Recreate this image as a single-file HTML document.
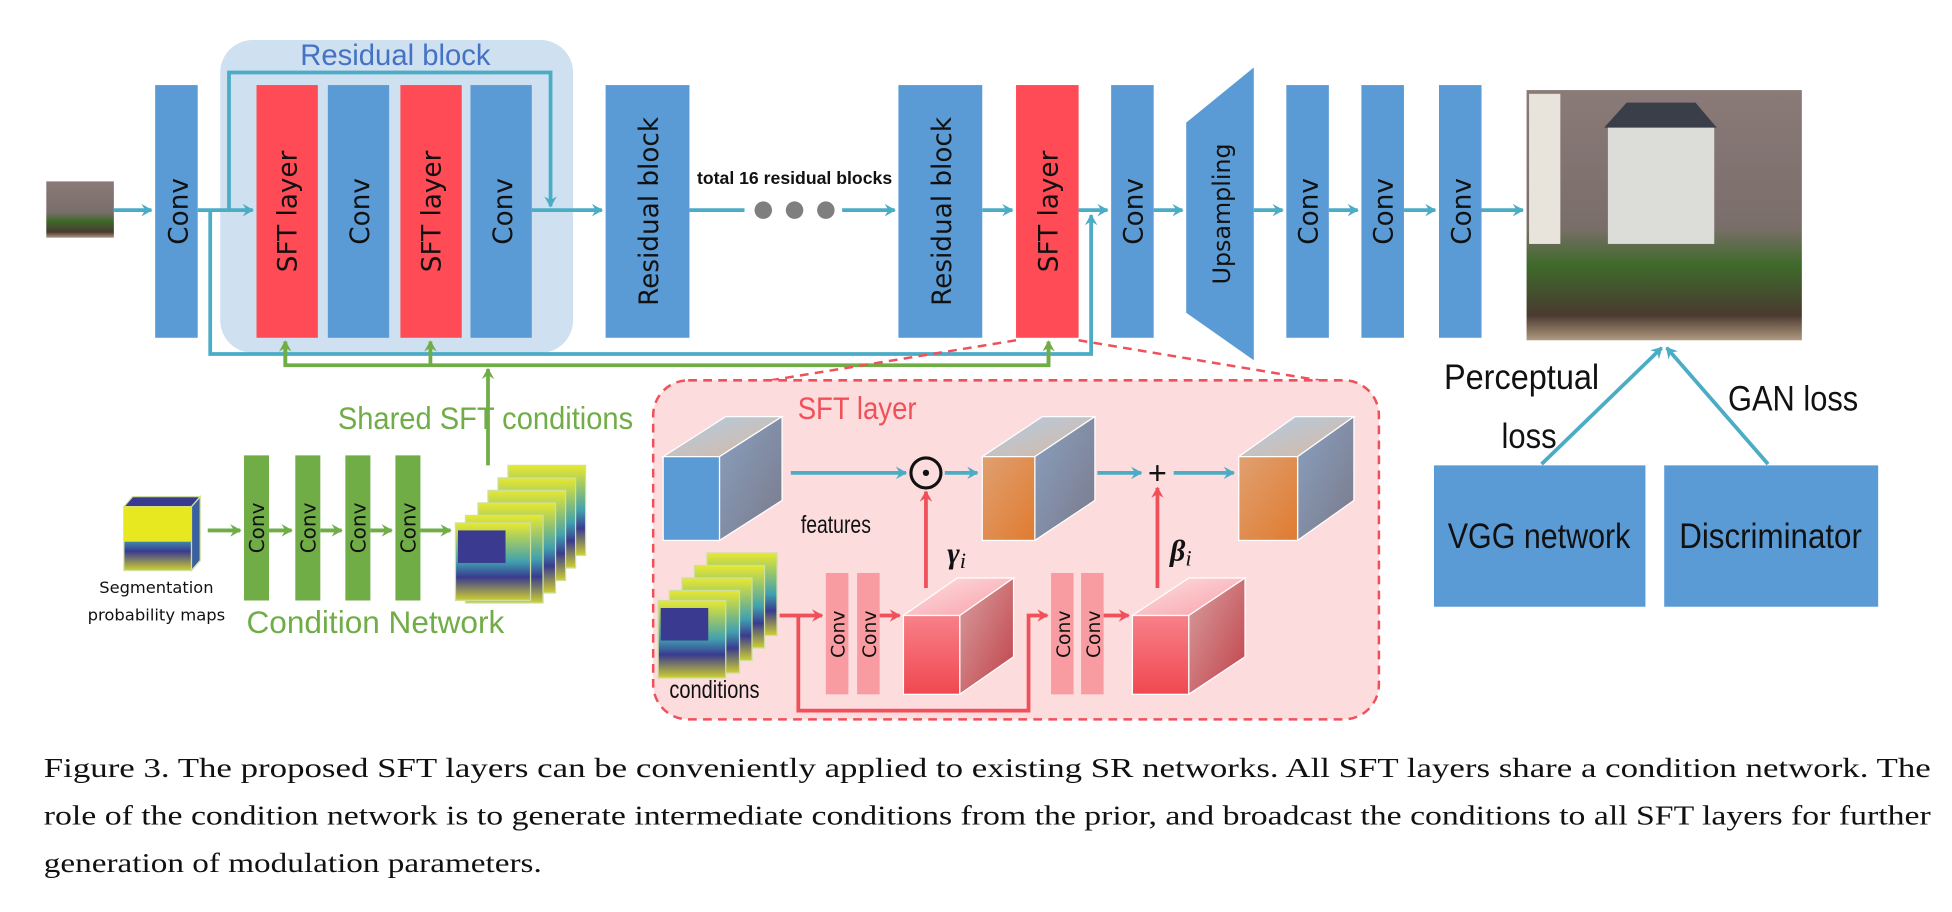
<!DOCTYPE html>
<html><head><meta charset="utf-8"><style>
html,body{margin:0;padding:0;background:#fff;width:1952px;height:912px;overflow:hidden}
svg{display:block}
.lb{font-family:"DejaVu Sans","Liberation Sans",sans-serif;font-size:21px;fill:#111}
.sm{font-family:"DejaVu Sans","Liberation Sans",sans-serif;fill:#111}
.cap{font-family:"Liberation Serif",serif;font-size:22px;fill:#111}
</style></head><body>
<svg width="1952" height="912" viewBox="0 0 1560 729" preserveAspectRatio="none" xmlns="http://www.w3.org/2000/svg">
<defs>
<marker id="at" markerWidth="10" markerHeight="10" refX="8" refY="5" orient="auto" markerUnits="userSpaceOnUse"><path d="M0,0 L9,5 L0,10 L3,5z" fill="#4bacc6"/></marker>
<marker id="ag" markerWidth="10" markerHeight="10" refX="8" refY="5" orient="auto" markerUnits="userSpaceOnUse"><path d="M0,0 L9,5 L0,10 L3,5z" fill="#70ad47"/></marker>
<marker id="ar" markerWidth="10" markerHeight="10" refX="8" refY="5" orient="auto" markerUnits="userSpaceOnUse"><path d="M0,0 L9,5 L0,10 L3,5z" fill="#f0505a"/></marker>
<linearGradient id="gt" x1="0" y1="0" x2="1" y2="1"><stop offset="0" stop-color="#b0cce6"/><stop offset="1" stop-color="#d8b8a0"/></linearGradient>
<linearGradient id="gs" x1="0" y1="0" x2="1" y2="1"><stop offset="0" stop-color="#8aa0c0"/><stop offset="1" stop-color="#7a7a8a"/></linearGradient>
<linearGradient id="go" x1="0" y1="0" x2="1" y2="1"><stop offset="0" stop-color="#e0a070"/><stop offset="1" stop-color="#e07b30"/></linearGradient>
<linearGradient id="gp" x1="0" y1="0" x2="0" y2="1"><stop offset="0" stop-color="#f88088"/><stop offset="1" stop-color="#f04850"/></linearGradient>
<linearGradient id="gpt" x1="0" y1="0" x2="1" y2="1"><stop offset="0" stop-color="#fde0e2"/><stop offset="1" stop-color="#f8a0a8"/></linearGradient>
<linearGradient id="gps" x1="0" y1="0" x2="1" y2="1"><stop offset="0" stop-color="#d8a0a0"/><stop offset="1" stop-color="#c04048"/></linearGradient>
<linearGradient id="gm" x1="0" y1="0" x2="0" y2="1"><stop offset="0" stop-color="#e8e830"/><stop offset="0.5" stop-color="#40a0b0"/><stop offset="0.7" stop-color="#3a3a90"/><stop offset="1" stop-color="#d0d030"/></linearGradient>
<linearGradient id="ph" x1="0" y1="0" x2="0" y2="1"><stop offset="0" stop-color="#8a7a78"/><stop offset="0.55" stop-color="#7a6e6a"/><stop offset="0.7" stop-color="#3e6a2a"/><stop offset="0.9" stop-color="#4a3a30"/><stop offset="1" stop-color="#b09a80"/></linearGradient>
</defs>

<rect x="176" y="32" width="282" height="250" rx="26" fill="#cfe0f0"/>
<text x="316" y="52" text-anchor="middle" font-family="Liberation Sans Narrow,Liberation Sans,sans-serif" font-size="24" fill="#4472c4" textLength="152" lengthAdjust="spacingAndGlyphs">Residual block</text>

<g fill="#5b9bd5">
<rect x="124" y="68" width="34" height="202"/>
<rect x="262" y="68" width="49" height="202"/>
<rect x="376" y="68" width="49" height="202"/>
<rect x="484" y="68" width="67" height="202"/>
<rect x="718" y="68" width="67" height="202"/>
<rect x="888" y="68" width="34" height="202"/>
<polygon points="948,98 1002,54 1002,288 948,250"/>
<rect x="1028" y="68" width="34" height="202"/>
<rect x="1088" y="68" width="34" height="202"/>
<rect x="1150" y="68" width="34" height="202"/>
</g>
<g fill="#ff4b55">
<rect x="205" y="68" width="49" height="202"/>
<rect x="320" y="68" width="49" height="202"/>
<rect x="812" y="68" width="50" height="202"/>
</g>
<g class="lb">
<text transform="translate(150,169) rotate(-90)" text-anchor="middle">Conv</text>
<text transform="translate(237,169) rotate(-90)" text-anchor="middle">SFT layer</text>
<text transform="translate(295,169) rotate(-90)" text-anchor="middle">Conv</text>
<text transform="translate(352,169) rotate(-90)" text-anchor="middle">SFT layer</text>
<text transform="translate(409,169) rotate(-90)" text-anchor="middle">Conv</text>
<text transform="translate(526,169) rotate(-90)" text-anchor="middle">Residual block</text>
<text transform="translate(760,169) rotate(-90)" text-anchor="middle">Residual block</text>
<text transform="translate(845,169) rotate(-90)" text-anchor="middle">SFT layer</text>
<text transform="translate(913,169) rotate(-90)" text-anchor="middle">Conv</text>
<text transform="translate(983,171) rotate(-90)" text-anchor="middle" font-size="19">Upsampling</text>
<text transform="translate(1053,169) rotate(-90)" text-anchor="middle">Conv</text>
<text transform="translate(1113,169) rotate(-90)" text-anchor="middle">Conv</text>
<text transform="translate(1175,169) rotate(-90)" text-anchor="middle">Conv</text>
</g>
<text x="635" y="147" text-anchor="middle" font-family="Liberation Sans Narrow,Liberation Sans,sans-serif" font-weight="bold" font-size="14" fill="#111" textLength="156" lengthAdjust="spacingAndGlyphs">total 16 residual blocks</text>
<g fill="#7f7f7f"><circle cx="610" cy="168" r="7"/><circle cx="635" cy="168" r="7"/><circle cx="660" cy="168" r="7"/></g>

<rect x="37" y="145" width="54" height="45" fill="url(#ph)"/>
<rect x="1220" y="72" width="220" height="200" fill="url(#ph)"/>
<rect x="1285" y="100" width="85" height="95" fill="#dcdcd8"/>
<polygon points="1282,102 1300,82 1355,82 1372,102" fill="#3a3e48"/>
<rect x="1222" y="75" width="25" height="120" fill="#e8e4dc"/>

<g stroke="#4bacc6" stroke-width="3" fill="none">
<line x1="91" y1="168" x2="121" y2="168" marker-end="url(#at)"/>
<line x1="158" y1="168" x2="202" y2="168" marker-end="url(#at)"/>
<polyline points="183,168 183,58 440,58 440,165" marker-end="url(#at)"/>
<line x1="425" y1="168" x2="481" y2="168" marker-end="url(#at)"/>
<line x1="551" y1="168" x2="595" y2="168"/>
<line x1="673" y1="168" x2="715" y2="168" marker-end="url(#at)"/>
<line x1="785" y1="168" x2="809" y2="168" marker-end="url(#at)"/>
<line x1="862" y1="168" x2="885" y2="168" marker-end="url(#at)"/>
<polyline points="168,168 168,283 872,283 872,172" marker-end="url(#at)"/>
<line x1="922" y1="168" x2="945" y2="168" marker-end="url(#at)"/>
<line x1="1002" y1="168" x2="1025" y2="168" marker-end="url(#at)"/>
<line x1="1062" y1="168" x2="1085" y2="168" marker-end="url(#at)"/>
<line x1="1122" y1="168" x2="1147" y2="168" marker-end="url(#at)"/>
<line x1="1184" y1="168" x2="1217" y2="168" marker-end="url(#at)"/>
<line x1="1232" y1="371" x2="1328" y2="278" marker-end="url(#at)"/>
<line x1="1413" y1="371" x2="1332" y2="278" marker-end="url(#at)"/>
</g>

<g stroke="#70ad47" stroke-width="3" fill="none">
<polyline points="228,273 228,292 838,292 838,273"/>
<line x1="228" y1="292" x2="228" y2="273" marker-end="url(#ag)"/>
<line x1="344" y1="292" x2="344" y2="273" marker-end="url(#ag)"/>
<line x1="838" y1="292" x2="838" y2="273" marker-end="url(#ag)"/>
<line x1="390" y1="372" x2="390" y2="295" marker-end="url(#ag)"/>
<line x1="166" y1="424" x2="192" y2="424" marker-end="url(#ag)"/>
<line x1="215" y1="424" x2="233" y2="424" marker-end="url(#ag)"/>
<line x1="256" y1="424" x2="273" y2="424" marker-end="url(#ag)"/>
<line x1="296" y1="424" x2="313" y2="424" marker-end="url(#ag)"/>
<line x1="336" y1="424" x2="360" y2="424" marker-end="url(#ag)"/>
</g>
<text x="388" y="343" text-anchor="middle" font-family="Liberation Sans Narrow,Liberation Sans,sans-serif" font-size="25" fill="#70ad47" textLength="236" lengthAdjust="spacingAndGlyphs">Shared SFT conditions</text>
<g fill="#70ad47">
<rect x="195" y="364" width="20" height="116"/><rect x="236" y="364" width="20" height="116"/><rect x="276" y="364" width="20" height="116"/><rect x="316" y="364" width="20" height="116"/>
</g>
<g class="sm" font-size="16">
<text transform="translate(211,422) rotate(-90)" text-anchor="middle">Conv</text>
<text transform="translate(252,422) rotate(-90)" text-anchor="middle">Conv</text>
<text transform="translate(292,422) rotate(-90)" text-anchor="middle">Conv</text>
<text transform="translate(332,422) rotate(-90)" text-anchor="middle">Conv</text>
</g>
<polygon points="99,405 106,397 160,397 153,405" fill="#3a3a90" stroke="#cde0a0"/>
<polygon points="153,405 160,397 160,448 153,456" fill="#3a60a0" stroke="#cde0a0"/>
<rect x="99" y="405" width="54" height="51" fill="url(#gm)" stroke="#cde0a0"/>
<rect x="99" y="405" width="54" height="28" fill="#e8e820"/>
<g stroke="#cde0a0">
<rect x="406" y="372" width="62" height="72" fill="url(#gm)"/>
<rect x="398" y="382" width="62" height="72" fill="url(#gm)"/>
<rect x="390" y="392" width="62" height="72" fill="url(#gm)"/>
<rect x="382" y="402" width="62" height="72" fill="url(#gm)"/>
<rect x="372" y="412" width="62" height="70" fill="url(#gm)"/>
<rect x="364" y="418" width="60" height="62" fill="url(#gm)"/>
</g>
<rect x="366" y="424" width="38" height="26" fill="#3a3a90"/>
<text x="125" y="474" text-anchor="middle" class="sm" font-size="13">Segmentation</text>
<text x="125" y="496" text-anchor="middle" class="sm" font-size="13" textLength="110" lengthAdjust="spacingAndGlyphs">probability maps</text>
<text x="300" y="506" text-anchor="middle" font-family="Liberation Sans Narrow,Liberation Sans,sans-serif" font-size="25" fill="#70ad47" textLength="206" lengthAdjust="spacingAndGlyphs">Condition Network</text>

<line x1="812" y1="272" x2="530" y2="318" stroke="#f0505a" stroke-width="2" stroke-dasharray="7,5"/>
<line x1="862" y1="272" x2="1060" y2="305" stroke="#f0505a" stroke-width="2" stroke-dasharray="7,5"/>
<rect x="522" y="304" width="580" height="271" rx="28" fill="#fddcde" stroke="#f0505a" stroke-width="2" stroke-dasharray="7,5"/>
<text x="685" y="335" text-anchor="middle" font-family="Liberation Sans Narrow,Liberation Sans,sans-serif" font-size="25" fill="#f0505a" textLength="95" lengthAdjust="spacingAndGlyphs">SFT layer</text>

<g stroke="#fff" stroke-width="1">
<polygon points="530,365 580,333 625,333 575,365" fill="url(#gt)"/>
<polygon points="575,365 625,333 625,400 575,432" fill="url(#gs)"/>
<rect x="530" y="365" width="45" height="67" fill="#5b9bd5"/>
<polygon points="785,365 833,333 875,333 827,365" fill="url(#gt)"/>
<polygon points="827,365 875,333 875,400 827,432" fill="url(#gs)"/>
<rect x="785" y="365" width="42" height="67" fill="url(#go)"/>
<polygon points="990,365 1035,333 1082,333 1037,365" fill="url(#gt)"/>
<polygon points="1037,365 1082,333 1082,400 1037,432" fill="url(#gs)"/>
<rect x="990" y="365" width="47" height="67" fill="url(#go)"/>
<polygon points="722,492 765,462 810,462 767,492" fill="url(#gpt)"/>
<polygon points="767,492 810,462 810,525 767,555" fill="url(#gps)"/>
<rect x="722" y="492" width="45" height="63" fill="url(#gp)"/>
<polygon points="905,492 950,462 995,462 950,492" fill="url(#gpt)"/>
<polygon points="950,492 995,462 995,525 950,555" fill="url(#gps)"/>
<rect x="905" y="492" width="45" height="63" fill="url(#gp)"/>
</g>
<g stroke="#cde0a0">
<rect x="565" y="442" width="56" height="66" fill="url(#gm)"/>
<rect x="555" y="452" width="56" height="66" fill="url(#gm)"/>
<rect x="545" y="462" width="56" height="66" fill="url(#gm)"/>
<rect x="535" y="472" width="56" height="66" fill="url(#gm)"/>
<rect x="526" y="480" width="54" height="62" fill="url(#gm)"/>
</g>
<rect x="528" y="486" width="38" height="26" fill="#3a3a90"/>
<g fill="#f89ca2">
<rect x="660" y="458" width="18" height="97"/><rect x="685" y="458" width="18" height="97"/>
<rect x="840" y="458" width="18" height="97"/><rect x="864" y="458" width="18" height="97"/>
</g>
<g class="sm" font-size="15">
<text transform="translate(675,507) rotate(-90)" text-anchor="middle">Conv</text>
<text transform="translate(700,507) rotate(-90)" text-anchor="middle">Conv</text>
<text transform="translate(855,507) rotate(-90)" text-anchor="middle">Conv</text>
<text transform="translate(879,507) rotate(-90)" text-anchor="middle">Conv</text>
</g>
<g stroke="#f0505a" stroke-width="3" fill="none">
<line x1="623" y1="492" x2="657" y2="492" marker-end="url(#ar)"/>
<line x1="703" y1="492" x2="719" y2="492" marker-end="url(#ar)"/>
<polyline points="638,492 638,568 822,568 822,492 837,492" marker-end="url(#ar)"/>
<line x1="882" y1="492" x2="902" y2="492" marker-end="url(#ar)"/>
<line x1="740" y1="470" x2="740" y2="393" marker-end="url(#ar)"/>
<line x1="925" y1="470" x2="925" y2="390" marker-end="url(#ar)"/>
</g>
<g stroke="#4bacc6" stroke-width="3" fill="none">
<line x1="632" y1="378" x2="724" y2="378" marker-end="url(#at)"/>
<line x1="755" y1="378" x2="781" y2="378" marker-end="url(#at)"/>
<line x1="877" y1="378" x2="912" y2="378" marker-end="url(#at)"/>
<line x1="938" y1="378" x2="986" y2="378" marker-end="url(#at)"/>
</g>
<circle cx="740" cy="378" r="12" fill="none" stroke="#111" stroke-width="2.5"/>
<circle cx="740" cy="378" r="2.5" fill="#111"/>
<text x="925" y="387" text-anchor="middle" font-family="Liberation Sans,sans-serif" font-size="26" fill="#111">+</text>
<text x="757" y="450" font-family="Liberation Serif,serif" font-style="italic" font-weight="bold" font-size="24" fill="#111">γ<tspan font-size="18" font-weight="normal" dy="4">i</tspan></text>
<text x="935" y="448" font-family="Liberation Serif,serif" font-style="italic" font-weight="bold" font-size="24" fill="#111">β<tspan font-size="18" font-weight="normal" dy="4">i</tspan></text>
<text x="640" y="426" font-family="Liberation Sans Narrow,Liberation Sans,sans-serif" font-size="20" fill="#111" textLength="56" lengthAdjust="spacingAndGlyphs">features</text>
<text x="535" y="558" font-family="Liberation Sans Narrow,Liberation Sans,sans-serif" font-size="20" fill="#111" textLength="72" lengthAdjust="spacingAndGlyphs">conditions</text>

<g fill="#5b9bd5"><rect x="1146" y="372" width="169" height="113"/><rect x="1330" y="372" width="171" height="113"/></g>
<g font-family="Liberation Sans Narrow,Liberation Sans,sans-serif" fill="#111" font-size="28">
<text x="1230" y="438" text-anchor="middle" textLength="146" lengthAdjust="spacingAndGlyphs">VGG network</text>
<text x="1415" y="438" text-anchor="middle" textLength="146" lengthAdjust="spacingAndGlyphs">Discriminator</text>
<text x="1216" y="311" text-anchor="middle" textLength="124" lengthAdjust="spacingAndGlyphs">Perceptual</text>
<text x="1222" y="358" text-anchor="middle" textLength="44" lengthAdjust="spacingAndGlyphs">loss</text>
<text x="1433" y="328" text-anchor="middle" textLength="104" lengthAdjust="spacingAndGlyphs">GAN loss</text>
</g>

<text class="cap" x="35" y="621" textLength="1508" lengthAdjust="spacingAndGlyphs">Figure 3. The proposed SFT layers can be conveniently applied to existing SR networks.  All SFT layers share a condition network.  The</text>
<text class="cap" x="35" y="659" textLength="1508" lengthAdjust="spacingAndGlyphs">role of the condition network is to generate intermediate conditions from the prior, and broadcast the conditions to all SFT layers for further</text>
<text class="cap" x="35" y="697" textLength="398" lengthAdjust="spacingAndGlyphs">generation of modulation parameters.</text>
</svg>
</body></html>
